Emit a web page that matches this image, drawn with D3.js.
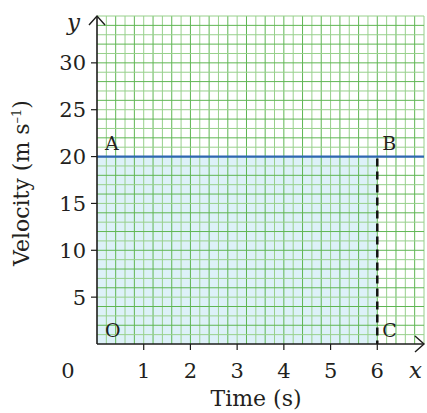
<!DOCTYPE html>
<html><head><meta charset="utf-8">
<script src="https://cdn.jsdelivr.net/npm/d3@7"></script>
<style>body{margin:0;background:#fff}svg{display:block}text{font-family:"DejaVu Serif",serif;fill:#231f20}</style>
</head><body><svg id="c" width="427" height="413"></svg>
<script>
const xTicks = [1, 2, 3, 4, 5, 6];
const yTicks = [5, 10, 15, 20, 25, 30];
const velocity = [20, 20];          // constant velocity (m/s)
const timeSpan = [0, 6];            // shaded interval (s)
const pointLabels = [
  {name: "A", t: 0, v: 20}, {name: "B", t: 6, v: 20},
  {name: "O", t: 0, v: 0}, {name: "C", t: 6, v: 0}
];
const xDomain = [0, 7], yDomain = [0, 35];

const svg = d3.select("#c");
const m = {l: 97, r: 3, t: 16, b: 69};
const W = 427, H = 413;
const x = d3.scaleLinear().domain(xDomain).range([m.l, W - m.r]);
const y = d3.scaleLinear().domain(yDomain).range([H - m.b, m.t]);

// shaded area
svg.append("rect").attr("x", x(timeSpan[0])).attr("y", y(velocity[0]))
  .attr("width", x(timeSpan[1]) - x(timeSpan[0])).attr("height", y(0) - y(velocity[0]))
  .attr("fill", "#ddf1f8");

// grid
const g = svg.append("g");
d3.range(1, 36).forEach(k => {
  const v = k * 0.2;
  g.append("line").attr("x1", x(v)).attr("x2", x(v)).attr("y1", y(35)).attr("y2", y(0))
    .attr("stroke", k % 2 ? "#98d08c" : "#5fb653").attr("stroke-width", 1);
});
d3.range(1, 36).forEach(v => {
  g.append("line").attr("y1", y(v)).attr("y2", y(v)).attr("x1", x(0)).attr("x2", x(7))
    .attr("stroke", v % 2 ? "#98d08c" : "#5fb653").attr("stroke-width", 1);
});

// blue line
svg.append("line").attr("x1", x(0)).attr("x2", x(7)).attr("y1", y(velocity[0])).attr("y2", y(velocity[1]))
  .attr("stroke", "#2e67b1").attr("stroke-width", 2.2);

// dashed line
svg.append("line").attr("x1", x(6)).attr("x2", x(6)).attr("y1", y(20) + 2).attr("y2", y(0))
  .attr("stroke", "#111").attr("stroke-width", 2.5).attr("stroke-dasharray", "8,5");

// axes
const axisColor = "#1d1d1b";
svg.append("line").attr("x1", x(0)).attr("x2", x(7)).attr("y1", y(0)).attr("y2", y(0)).attr("stroke", axisColor).attr("stroke-width", 1.6);
svg.append("line").attr("x1", x(0)).attr("x2", x(0)).attr("y1", y(0)).attr("y2", y(35)).attr("stroke", axisColor).attr("stroke-width", 1.6);
svg.append("path").attr("d", `M${x(7)-9},${y(0)-8} L${x(7)},${y(0)} L${x(7)-9},${y(0)+8}`).attr("fill", "none").attr("stroke", axisColor).attr("stroke-width", 1.4);
svg.append("path").attr("d", `M${x(0)-8},${y(35)+9} L${x(0)},${y(35)} L${x(0)+8},${y(35)+9}`).attr("fill", "none").attr("stroke", axisColor).attr("stroke-width", 1.4);

// ticks
xTicks.forEach(t => {
  svg.append("line").attr("x1", x(t)).attr("x2", x(t)).attr("y1", y(0)).attr("y2", y(0) + 6).attr("stroke", axisColor).attr("stroke-width", 1.2);
  svg.append("text").attr("x", x(t)).attr("y", 378).attr("text-anchor", "middle").attr("font-size", 21).text(t);
});
svg.append("text").attr("x", 68).attr("y", 378).attr("text-anchor", "middle").attr("font-size", 21).text("0");
yTicks.forEach(t => {
  svg.append("line").attr("x1", x(0) - 6).attr("x2", x(0)).attr("y1", y(t)).attr("y2", y(t)).attr("stroke", axisColor).attr("stroke-width", 1.2);
  svg.append("text").attr("x", 86).attr("y", y(t) + 7.5).attr("text-anchor", "end").attr("font-size", 21).text(t);
});

// axis letters
svg.append("text").attr("x", 67).attr("y", 30).attr("font-size", 23).attr("font-style", "italic").text("y");
svg.append("text").attr("x", 409).attr("y", 378).attr("font-size", 23).attr("font-style", "italic").text("x");

// point labels
pointLabels.forEach(p => {
  svg.append("text").attr("x", x(p.t) + (p.t === 0 ? 8 : 5)).attr("y", y(p.v) - 7)
    .attr("font-size", 19).text(p.name);
});

// axis titles
svg.append("text").attr("x", 256).attr("y", 406).attr("text-anchor", "middle").attr("font-size", 22).text("Time (s)");
const yl = svg.append("text").attr("transform", `translate(29,${(y(0)+y(35))/2 + 3}) rotate(-90)`).attr("text-anchor", "middle").attr("font-size", 22);
yl.append("tspan").text("Velocity (m s");
yl.append("tspan").attr("font-size", 13).attr("dy", -8).text("–1");
yl.append("tspan").attr("dy", 8).text(")");
</script></body></html>
